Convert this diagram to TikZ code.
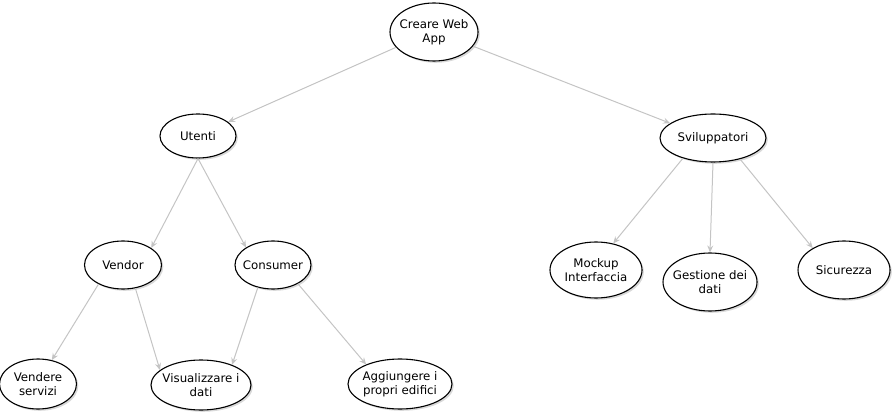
\documentclass[tikz,border=0pt]{standalone}
\usepackage{fontspec}
\setmainfont{DejaVu Sans}
\usetikzlibrary{shapes.geometric,arrows.meta,shadows}
\definecolor{edgegray}{RGB}{196,196,196}
\begin{document}
\begin{tikzpicture}[x=1pt,y=-1pt,
  goal/.style={ellipse, draw=black, line width=1.1pt, fill=white, inner xsep=-14pt, inner ysep=-5pt, align=center,
    font=\fontsize{11.8}{14}\selectfont,
    drop shadow={opacity=0.3, shadow xshift=1.8pt, shadow yshift=-1.8pt}},
  edge/.style={draw=edgegray, line width=1pt, -{Stealth[length=7pt,width=6pt,inset=2.5pt]}}]
\useasboundingbox (0,0) rectangle (893,419);
\node[goal, minimum width=88pt, minimum height=58pt] (web) at (434,32) {Creare Web\\App};
\node[goal, minimum width=76pt, minimum height=44pt] (ute) at (198,136) {Utenti};
\node[goal, minimum width=106pt, minimum height=48pt] (svi) at (713,138) {Sviluppatori};
\node[goal, minimum width=77pt, minimum height=48pt] (ven) at (123,265) {Vendor};
\node[goal, minimum width=76pt, minimum height=48pt] (con) at (273,265) {Consumer};
\node[goal, minimum width=77pt, minimum height=50pt] (vse) at (38,384) {Vendere\\servizi};
\node[goal, minimum width=100pt, minimum height=50pt] (vis) at (201,385) {Visualizzare i\\dati};
\node[goal, minimum width=104pt, minimum height=50pt] (agg) at (400,384) {Aggiungere i\\propri edifici};
\node[goal, minimum width=92pt, minimum height=56pt] (moc) at (596,270) {Mockup\\Interfaccia};
\node[goal, minimum width=94pt, minimum height=58pt] (ges) at (710,282) {Gestione dei\\dati};
\node[goal, minimum width=92pt, minimum height=58pt] (sic) at (844,270) {Sicurezza};
\draw[edge] (web.202) -- (ute.25);
\draw[edge] (web.-20) -- (svi.161);
\draw[edge] (ute.-90) -- (ven.31);
\draw[edge] (ute.-90) -- (con.147);
\draw[edge] (ven.218) -- (vse.60);
\draw[edge] (ven.-62) -- (vis.160);
\draw[edge] (con.236) -- (vis.33);
\draw[edge] (con.-37) -- (agg.150);
\draw[edge] (svi.214) -- (moc.57);
\draw[edge] (svi.-90) -- (ges.90);
\draw[edge] (svi.-38) -- (sic.145);
\end{tikzpicture}
\end{document}
